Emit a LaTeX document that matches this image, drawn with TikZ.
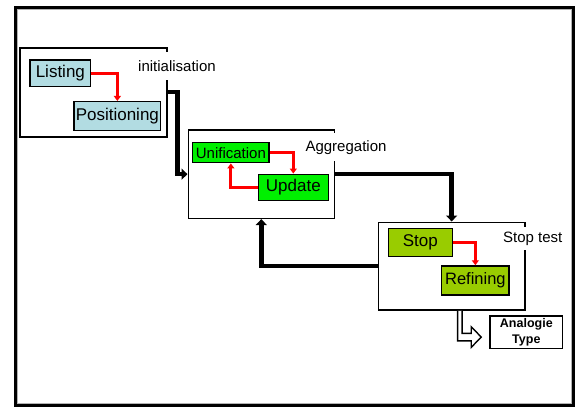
\documentclass[tikz,border=0pt]{standalone}
\usepackage{fontspec}
\setmainfont{Liberation Sans}
\usetikzlibrary{arrows.meta,calc}

\definecolor{paleblue}{RGB}{178,220,226}
\definecolor{brightgreen}{RGB}{0,240,0}
\definecolor{olive}{RGB}{153,204,0}
\definecolor{flowred}{RGB}{255,0,0}

\tikzset{
  group/.style={draw=black, line width=1.6pt, fill=white, inner sep=0pt},
  stepbox/.style={draw=black, line width=1.5pt, inner sep=0pt, font=\fontsize{17}{19}\selectfont},
  grouplabel/.style={fill=white, inner sep=0pt, minimum height=28pt, font=\fontsize{15}{17}\selectfont},
  redflow/.style={draw=flowred, line width=3pt, -{Triangle[width=7pt,length=5pt]}},
  mainflow/.style={draw=black, line width=4.5pt, -{Triangle[width=11pt,length=6pt]}},
}

\begin{document}
\begin{tikzpicture}[x=1pt, y=-1pt]
  \useasboundingbox (0,0) rectangle (575,408);

  % outer frame
  \draw[line width=3pt] (15.5,7.5) rectangle (573.5,405.5);
  \draw[gray!60, line width=0.8pt] (17.6,9.6) rectangle (571.4,403.4);

  % phase groups
  \node[group, minimum width=146.7pt, minimum height=89pt] (init) at (93.35,92.2) {};
  \node[group, minimum width=146pt, minimum height=88.3pt] (agg) at (261.3,174.15) {};
  \node[group, minimum width=146.7pt, minimum height=87.7pt] (stoptest) at (451.65,266.15) {};

  % group titles
  \node[grouplabel] (initlbl) at (177,66) {initialisation};
  \node[grouplabel] (agglbl) at (346,147.3) {Aggregation};
  \node[grouplabel, minimum height=23pt] (stoplbl) at (532.7,238.5) {Stop test};

  % steps
  \node[stepbox, fill=paleblue, minimum width=60.7pt, minimum height=26.7pt] (listing) at (60.35,73.35) {Listing};
  \node[stepbox, fill=paleblue, minimum width=86.7pt, minimum height=29pt] (positioning) at (117.35,116.2) {Positioning};
  \node[stepbox, fill=brightgreen, minimum width=76.3pt, minimum height=20pt, font=\fontsize{15}{17}\selectfont] (unification) at (230.85,152.7) {Unification};
  \node[stepbox, fill=brightgreen, minimum width=70pt, minimum height=26.4pt] (update) at (293.3,187.5) {Update};
  \node[stepbox, fill=olive, minimum width=64pt, minimum height=28.4pt] (stop) at (420.3,242.5) {Stop};
  \node[stepbox, fill=olive, minimum width=67.3pt, minimum height=29pt, font=\fontsize{16.5}{18}\selectfont] (refining) at (475.35,280.5) {Refining};

  % result box
  \node[draw=black, line width=1.5pt, minimum width=72.7pt, minimum height=32.3pt, inner sep=0pt,
        align=center, font=\fontsize{12.5}{16}\selectfont\bfseries] (analogie) at (526.35,332.15) {Analogie\\Type};

  % steps inside each group
  \draw[redflow] (listing.east) -| (positioning.north);
  \draw[redflow] (unification.east) -| (update.north);
  \draw[redflow] (update.west) -| (unification.south);
  \draw[redflow] (stop.east) -| (refining.north);

  % flow between groups
  \draw[mainflow] (init.east) -- ($(init.east)+(10,0)$) |- (agg.west);
  \draw[mainflow] (agg.east) -| (stoptest.north);
  \draw[mainflow] (stoptest.west) -| (agg.south);

  % hollow exit arrow below the stop test
  \coordinate (exit) at ($(stoptest.south)+(5.9,0)$);
  \draw[line width=1.4pt, fill=white, line join=miter]
    (exit) -- ++(0,30) -- ++(13.7,0) -- ++(0,6.5) -- ++(10,-10.2) -- ++(-10,-10.3)
    -- ++(0,6.5) -- ++(-9.2,0) -- ++(0,-22.5);
\end{tikzpicture}
\end{document}
